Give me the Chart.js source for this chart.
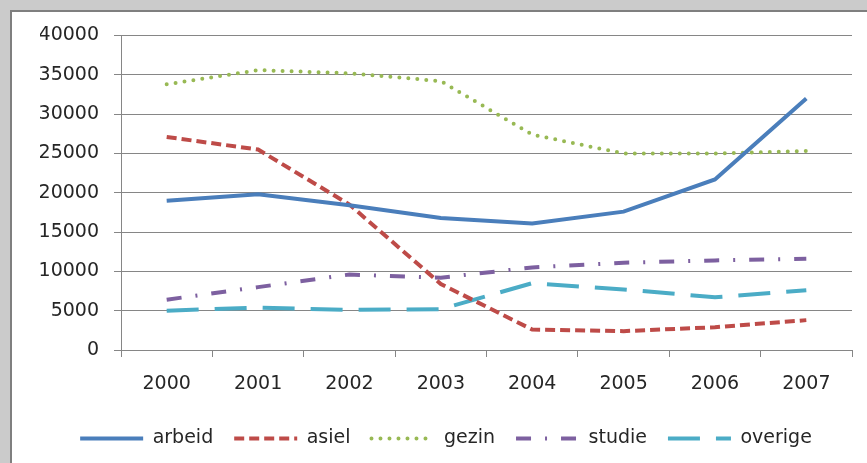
<!DOCTYPE html>
<html>
<head>
<meta charset="utf-8">
<script src="https://cdn.jsdelivr.net/npm/chart.js@4.4.1/dist/chart.umd.min.js"></script>
<style>
	html, body { margin: 0; padding: 0; background: #cbcbcb; overflow: hidden; }
	#kader {
		position: absolute; left: 10px; top: 10px; width: 855px; height: 451px;
		border-left: 2px solid #7f7f7f; border-top: 2px solid #7f7f7f;
		background: #ffffff;
	}
	#grafiek { display: block; }
</style>
</head>
<body>
<div id="kader"><canvas id="grafiek" width="855" height="451"></canvas></div>
<script>
// jaren en aantallen per categorie
var jaren   = ['2000', '2001', '2002', '2003', '2004', '2005', '2006', '2007'];
var arbeid  = [19000, 19800, 18400, 16800, 16100, 17600, 21700, 32000];
var asiel   = [27100, 25500, 18500, 8400, 2600, 2400, 2900, 3800];
var gezin   = [33800, 35600, 35200, 34200, 27400, 25000, 25000, 25300];
var studie  = [6400, 8000, 9600, 9200, 10500, 11100, 11400, 11600];
var overige = [5000, 5400, 5100, 5200, 8500, 7700, 6700, 7600];
var yMax = 40000, yStap = 5000;

var letter = {family: "'DejaVu Sans', sans-serif", size: 19};
var tekstKleur = '#262626';
var lijnKleur = '#868686';

function reeks(label, data, kleur, streep, kap){
	return {
		label: label,
		data: data,
		borderColor: kleur,
		backgroundColor: kleur,
		borderWidth: 4,
		borderDash: streep,
		borderCapStyle: kap || 'butt',
		pointRadius: 0,
		pointHoverRadius: 0,
		tension: 0,
		fill: false
	};
}

// legenda: lijnstukje met hetzelfde streeppatroon als de reeks
function legendaItems(chart){
	return chart.data.datasets.map(function(ds, i){
		return {
			text: ds.label,
			datasetIndex: i,
			fillStyle: ds.borderColor,
			strokeStyle: ds.borderColor,
			lineWidth: ds.borderWidth,
			lineDash: ds.borderDash,
			lineCap: ds.borderCapStyle,
			pointStyle: 'line',
			fontColor: tekstKleur,
			hidden: false
		};
	});
}

var ctx = document.querySelector('#grafiek');
var myChart = new Chart(ctx, {
	type: 'line',
	data: {
		labels: jaren,
		datasets: [
			reeks('arbeid', arbeid, '#4a7ebb', []),
			reeks('asiel', asiel, '#be4b48', [10, 5]),
			reeks('gezin', gezin, '#98b954', [0, 9], 'round'),
			reeks('studie', studie, '#7d60a0', [15, 14, 2, 14]),
			reeks('overige', overige, '#4bacc6', [32, 16])
		]
	},
	options: {
		responsive: false,
		animation: false,
		layout: { padding: {top: 21, right: 15, bottom: 5, left: 28} },
		plugins: {
			tooltip: { enabled: false },
			legend: {
				position: 'bottom',
				labels: {
					usePointStyle: true,
					pointStyle: 'line',
					pointStyleWidth: 63,
					padding: 21,
					color: tekstKleur,
					font: letter,
					generateLabels: legendaItems
				}
			}
		},
		scales: {
			x: {
				offset: true,
				grid: {
					offset: true,
					drawOnChartArea: false,
					drawTicks: true,
					tickLength: 7,
					color: lijnKleur
				},
				border: { color: lijnKleur },
				ticks: { color: tekstKleur, font: letter, padding: 16, maxRotation: 0 },
				afterFit: function(scale){ scale.height = 58; }
			},
			y: {
				min: 0,
				max: yMax,
				grid: { color: lijnKleur, tickLength: 7 },
				border: { color: lijnKleur },
				ticks: {
					stepSize: yStap,
					color: tekstKleur,
					font: {family: letter.family, size: letter.size, lineHeight: 0.9},
					padding: 15,
					callback: function(v){ return String(v); }
				},
				afterFit: function(scale){ scale.width = 81; }
			}
		}
	}
});
</script>
</body>
</html>
